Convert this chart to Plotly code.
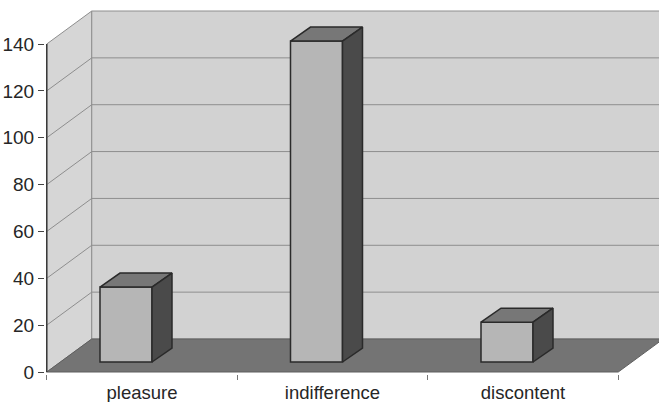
import plotly.graph_objects as go

# ---- data ----
categories = ["pleasure", "indifference", "discontent"]
values = [32, 137, 17]
y_ticks = [0, 20, 40, 60, 80, 100, 120, 140]
y_max = 140

# ---- geometry / style ----
W, H = 659, 402
UX = 190.5                      # px per category
KY = (372 - 44) / 140           # px per value unit
L, R, T, B = 45, 0, 7, 28
X0_PX = 142                     # pixel of category 0 centre (front plane)
ZERO_PX = 372                   # pixel of value 0 (front plane)
xr = [(L - X0_PX) / UX, (W - R - X0_PX) / UX]
yr = [-(H - B - ZERO_PX) / KY, (ZERO_PX - T) / KY]

DX, DY = 45 / UX, 33 / KY       # wall depth
BAR_W = 52 / UX
BAR_SHIFT = -16 / UX
BASE = 10 / KY
BDX, BDY = 20 / UX, 14 / KY

C_WALL = "#d2d2d2"
C_SIDE = "#d6d6d6"
C_FLOOR = "#747474"
C_GRID = "#8e8e8e"
C_FRONT = "#b6b6b6"
C_TOP = "#777777"
C_RSIDE = "#4a4a4a"
C_EDGE = "#2a2a2a"
FONT_X = dict(family="Liberation Sans, Arial, sans-serif", size=18.5, color="#262626")
FONT_Y = dict(family="Liberation Sans, Arial, sans-serif", size=19, color="#262626")

x_lo, x_hi = -0.5, len(categories) - 0.5

def path(pts):
    return "M " + " L ".join(f"{x},{y}" for x, y in pts) + " Z"

shapes = []
# side wall
shapes.append(dict(type="path", xref="x", yref="y", layer="below",
                   path=path([(x_lo, 0), (x_lo, y_max), (x_lo + DX, y_max + DY), (x_lo + DX, DY)]),
                   fillcolor=C_SIDE, line=dict(color=C_GRID, width=1)))
# back wall
shapes.append(dict(type="path", xref="x", yref="y", layer="below",
                   path=path([(x_lo + DX, DY), (x_lo + DX, y_max + DY), (x_hi + DX, y_max + DY), (x_hi + DX, DY)]),
                   fillcolor=C_WALL, line=dict(color=C_GRID, width=1)))
# gridlines
for v in y_ticks[1:-1]:
    shapes.append(dict(type="line", xref="x", yref="y", layer="below",
                       x0=x_lo, y0=v, x1=x_lo + DX, y1=v + DY, line=dict(color=C_GRID, width=1)))
    shapes.append(dict(type="line", xref="x", yref="y", layer="below",
                       x0=x_lo + DX, y0=v + DY, x1=x_hi + DX, y1=v + DY, line=dict(color=C_GRID, width=1)))
# floor
shapes.append(dict(type="path", xref="x", yref="y", layer="below",
                   path=path([(x_lo, 0), (x_hi, 0), (x_hi + DX, DY), (x_lo + DX, DY)]),
                   fillcolor=C_FLOOR, line=dict(color="#5e5e5e", width=1)))
# value axis line
shapes.append(dict(type="line", xref="x", yref="y", layer="below",
                   x0=x_lo, y0=0, x1=x_lo, y1=y_max, line=dict(color="#3a3a3a", width=1.5)))

fig = go.Figure()
idx = list(range(len(categories)))
fig.add_trace(go.Bar(x=idx, y=values, base=BASE, width=BAR_W,
                     offset=BAR_SHIFT - BAR_W / 2,
                     marker=dict(color=C_FRONT, line=dict(color=C_EDGE, width=1.5)),
                     hoverinfo="skip", showlegend=False))

for i, v in zip(idx, values):
    xl = i + BAR_SHIFT - BAR_W / 2
    xrr = xl + BAR_W
    top = BASE + v
    fig.add_trace(go.Scatter(
        x=[xl, xrr, xrr + BDX, xl + BDX, xl], y=[top, top, top + BDY, top + BDY, top],
        mode="lines", fill="toself", fillcolor=C_TOP, line=dict(color=C_EDGE, width=1.5),
        hoverinfo="skip", showlegend=False))
    fig.add_trace(go.Scatter(
        x=[xrr, xrr + BDX, xrr + BDX, xrr, xrr], y=[BASE, BASE + BDY, top + BDY, top, BASE],
        mode="lines", fill="toself", fillcolor=C_RSIDE, line=dict(color=C_EDGE, width=1.5),
        hoverinfo="skip", showlegend=False))

fig.update_layout(
    width=W, height=H,
    margin=dict(l=L, r=R, t=T, b=B, pad=0),
    paper_bgcolor="white", plot_bgcolor="white",
    font=FONT_X, shapes=shapes, showlegend=False,
    xaxis=dict(range=xr, tickmode="array", tickvals=idx, ticktext=categories,
               ticks="", showgrid=False, zeroline=False, showline=False,
               ticklabelstandoff=5, tickfont=FONT_X, automargin=False,
               minor=dict(tickmode="array",
                          tickvals=[k - 0.5 for k in range(len(categories) + 1)],
                          ticks="outside", ticklen=5, tickcolor="#777", showgrid=False)),
    yaxis=dict(range=yr, tickmode="array", tickvals=y_ticks,
               ticks="outside", ticklen=6, tickcolor="#444", automargin=False,
               showgrid=False, zeroline=False, showline=False, tickfont=FONT_Y),
)

fig.write_html("out.html", config={"displayModeBar": False},
               post_script="document.body.style.margin='0';document.body.style.overflow='hidden';")
